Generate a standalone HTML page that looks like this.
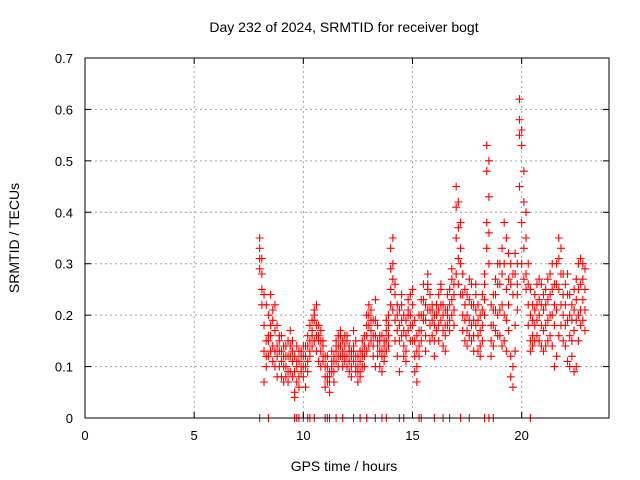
<!DOCTYPE html>
<html><head><meta charset="utf-8"><style>
html,body{margin:0;padding:0;background:#fff;}
svg{display:block;font-family:"Liberation Sans",sans-serif;}
</style></head><body>
<svg id="chart" width="640" height="480" viewBox="0 0 640 480">
<rect width="640" height="480" fill="#fff"/>
<text x="344" y="32" font-size="14" text-anchor="middle">Day 232 of 2024, SRMTID for receiver bogt</text>
<text x="344" y="471" font-size="14" text-anchor="middle">GPS time / hours</text>
<text transform="translate(19,238) rotate(-90)" font-size="14" text-anchor="middle">SRMTID / TECUs</text>
<g id="grid"></g><g id="marks"></g><g id="axes"></g>
<rect x="85" y="58" width="524" height="360" fill="none" stroke="#000" stroke-width="1"/>
</svg>
<script>
const xTicks=[0,5,10,15,20];
const yTicks=[0,0.1,0.2,0.3,0.4,0.5,0.6,0.7];
const yTickLabels=["0","0.1","0.2","0.3","0.4","0.5","0.6","0.7"];
const hours=[8.0,8.1,8.2,8.3,8.4,8.5,8.6,8.7,8.8,8.9,9.0,9.1,9.2,9.3,9.4,9.5,9.6,9.7,9.8,9.9,10.0,10.1,10.2,10.3,10.4,10.5,10.6,10.7,10.8,10.9,11.0,11.1,11.2,11.3,11.4,11.5,11.6,11.7,11.8,11.9,12.0,12.1,12.2,12.3,12.4,12.5,12.6,12.7,12.8,12.9,13.0,13.1,13.2,13.3,13.4,13.5,13.6,13.7,13.8,13.9,14.0,14.1,14.2,14.3,14.4,14.5,14.6,14.7,14.8,14.9,15.0,15.1,15.2,15.3,15.4,15.5,15.6,15.7,15.8,15.9,16.0,16.1,16.2,16.3,16.4,16.5,16.6,16.7,16.8,16.9,17.0,17.1,17.2,17.3,17.4,17.5,17.6,17.7,17.8,17.9,18.0,18.1,18.2,18.3,18.4,18.5,18.6,18.7,18.8,18.9,19.0,19.1,19.2,19.3,19.4,19.5,19.6,19.7,19.8,19.9,20.0,20.1,20.2,20.3,20.4,20.5,20.6,20.7,20.8,20.9,21.0,21.1,21.2,21.3,21.4,21.5,21.6,21.7,21.8,21.9,22.0,22.1,22.2,22.3,22.4,22.5,22.6,22.7,22.8,22.9];
const tecA=[.35,.31,.24,.22,.20,.16,.14,.22,.18,.15, .16,.14,.12,.15,.14,.11,.12,.10,.13,.09, .12,.14,.16,.18,.19,.21,.22,.18,.17,.15, .10,.12,.09,.13,.11,.15,.14,.16,.12,.14, .15,.14,.13,.17,.15,.12,.11,.13,.14,.18, .20,.21,.19,.23,.18,.15,.16,.14,.17,.18, .33,.30,.26,.22,.21,.24,.20,.19,.23,.20, .22,.19,.16,.20,.23,.26,.22,.28,.24,.21, .20,.22,.24,.26,.22,.21,.24,.22,.27,.26, .45,.42,.38,.28,.25,.24,.27,.26,.22,.24, .22,.20,.24,.28,.53,.50,.22,.24,.27,.30, .30,.33,.38,.35,.32,.30,.28,.32,.30,.58, .56,.48,.40,.30,.25,.22,.24,.26,.27,.26, .24,.25,.27,.28,.30,.26,.30,.35,.33,.28, .26,.28,.24,.22,.25,.27,.30,.31,.30,.29];
const tecB=[.33,.28,.18,.15,.12,.24,.19,.17,.12,.13, .13,.10,.08,.12,.17,.15,.09,.14,.11,.12, .10,.12,.14,.15,.17,.19,.16,.15,.13,.12, .08,.10,.07,.11,.09,.13,.12,.14,.10,.12, .12,.11,.10,.14,.12,.10,.09,.10,.12,.16, .18,.17,.16,.19,.15,.13,.12,.12,.15,.16, .29,.35,.24,.20,.18,.22,.17,.16,.20,.18, .18,.15,.13,.17,.20,.23,.19,.25,.21,.19, .18,.20,.21,.22,.20,.18,.21,.19,.23,.24, .41,.37,.33,.24,.22,.20,.23,.22,.19,.21, .19,.17,.21,.26,.48,.43,.18,.21,.24,.26, .26,.28,.30,.25,.27,.26,.24,.28,.26,.62, .53,.42,.35,.26,.20,.19,.21,.22,.23,.22, .21,.22,.23,.24,.25,.22,.26,.31,.28,.24, .22,.24,.20,.19,.21,.23,.25,.26,.27,.25];
const tecC=[.31,.22,.13,.10,.16,.13,.11,.10,.14,.10, .08,.12,.14,.07,.09,.13,.05,.07,.08,.10, .08,.06,.11,.13,.14,.15,.13,.11,.10,.14, .06,.08,.05,.09,.07,.11,.10,.12,.13,.16, .10,.09,.08,.11,.09,.07,.08,.12,.10,.13, .14,.15,.12,.16,.12,.10,.09,.11,.13,.14, .25,.27,.19,.17,.15,.19,.14,.13,.17,.15, .15,.12,.10,.14,.17,.19,.16,.21,.18,.16, .15,.17,.18,.19,.17,.16,.18,.17,.20,.21, .35,.31,.30,.20,.19,.17,.19,.18,.16,.18, .16,.14,.18,.23,.38,.36,.15,.18,.21,.20, .21,.22,.20,.19,.22,.12,.10,.18,.24,.55, .38,.33,.28,.22,.15,.16,.18,.19,.20,.18, .17,.18,.19,.20,.20,.18,.21,.25,.22,.20, .18,.19,.16,.15,.17,.19,.20,.21,.23,.21];
const tecD=[.29,.25,.07,.12,.15,.18,.21,.13,.08,.16, .11,.07,.10,.09,.12,.08,.04,.11,.06,.13, .14,.10,.09,.12,.16,.20,.18,.16,.15,.11, .12,.07,.08,.10,.12,.14,.16,.17,.15,.11, .16,.13,.12,.13,.10,.09,.13,.15,.16,.20, .22,.19,.14,.10,.14,.16,.13,.15,.19,.20, .22,.21,.15,.12,.09,.16,.12,.11,.21,.24, .25,.09,.07,.12,.15,.20,.13,.26,.15,.22, .12,.22,.15,.25,.14,.13,.20,.25,.29,.18, .28,.26,.24,.17,.15,.14,.16,.15,.13,.26, .13,.12,.15,.20,.33,.30,.12,.14,.17,.16, .16,.14,.15,.13,.17,.08,.06,.13,.21,.45, .30,.27,.25,.18,.13,.14,.15,.16,.15,.14, .13,.14,.15,.16,.14,.10,.12,.16,.18,.15, .14,.11,.10,.12,.09,.10,.15,.18,.19,.17];
const zeroHours=[8.0,8.4,9.6,9.7,9.8,10.0,10.2,10.3,10.5,11.0,11.1,11.2,11.5,11.8,12.3,12.6,12.9,13.3,13.6,13.8,14.4,14.6,15.3,15.4,16.0,16.4,16.7,17.2,17.6,18.3,18.5,18.7,20.4];

const X0=85,X1=609,Y0=418,Y1=58,XMAX=24,YMAX=0.7;
function sx(h){return X0+(X1-X0)*h/XMAX;}
function sy(v){return Y0-(Y0-Y1)*v/YMAX;}
const NS="http://www.w3.org/2000/svg";
function mk(tag,attrs,parent){const e=document.createElementNS(NS,tag);for(const k in attrs)e.setAttribute(k,attrs[k]);parent.appendChild(e);return e;}
const grid=document.getElementById('grid'),marks=document.getElementById('marks'),axes=document.getElementById('axes');
xTicks.forEach(t=>{
  const x=sx(t);
  if(t>0){const g=mk('line',{x1:x,x2:x,y1:Y0,y2:Y1,stroke:'#a0a0a0','stroke-dasharray':'2,3'},grid);
  
  }
  mk('line',{x1:x,x2:x,y1:Y0,y2:Y0-6,stroke:'#000'},axes);
  mk('line',{x1:x,x2:x,y1:Y1,y2:Y1+6,stroke:'#000'},axes);
  const l=mk('text',{x:x,y:Y0+22,'font-size':13,'text-anchor':'middle'},axes);l.textContent=t;
  
  
});
yTicks.forEach((t,i)=>{
  const y=sy(t);
  if(t>0&&t<YMAX){const g=mk('line',{x1:X0,x2:X1,y1:y,y2:y,stroke:'#a0a0a0','stroke-dasharray':'2,3'},grid);
  
  }
  mk('line',{x1:X0,x2:X0+6,y1:y,y2:y,stroke:'#000'},axes);
  mk('line',{x1:X1,x2:X1-6,y1:y,y2:y,stroke:'#000'},axes);
  const l=mk('text',{x:X0-12,y:y+5,'font-size':13,'text-anchor':'end'},axes);l.textContent=yTickLabels[i];
  
  
});
function plus(h,v,color){
  const x=sx(h),y=sy(v);
  const p=mk('path',{d:`M${x-4},${y}H${x+4}M${x},${y-4}V${y+4}`,stroke:color,'stroke-width':1.1,fill:'none'},marks);
  
  
}
[tecA,tecB,tecC,tecD].forEach(s=>{s.forEach((v,i)=>plus(hours[i],v,'#ff0000'));});
zeroHours.forEach(h=>plus(h,0,'#ff0000'));
</script>
</body></html>
